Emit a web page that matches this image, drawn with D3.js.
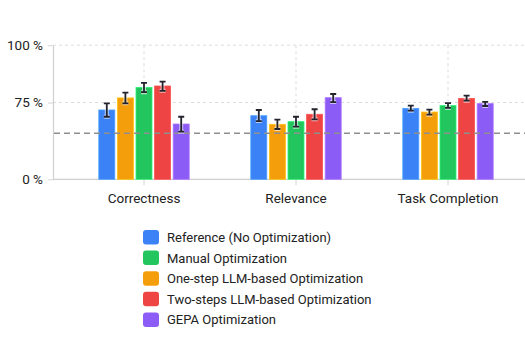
<!DOCTYPE html>
<html>
<head>
<meta charset="utf-8">
<script src="https://cdn.jsdelivr.net/npm/d3@7"></script>
<style>
  html, body { margin: 0; padding: 0; background: #fff; }
  svg { display: block; font-family: Roboto, "Noto Sans", sans-serif; }
</style>
</head>
<body>
<svg id="chart" width="525" height="360"></svg>
<script>
// ---- data ----
const categories = ["Correctness", "Relevance", "Task Completion"];
const barOrder = ["Reference (No Optimization)", "One-step LLM-based Optimization", "Manual Optimization", "Two-steps LLM-based Optimization", "GEPA Optimization"];
const legendOrder = ["Reference (No Optimization)", "Manual Optimization", "One-step LLM-based Optimization", "Two-steps LLM-based Optimization", "GEPA Optimization"];
const seriesColors = ["#3B82F6", "#F59E0B", "#22C55E", "#EF4444", "#8B5CF6"]; // by barOrder

// values per series (barOrder), per category
const refValues      = [67.7, 62.1, 69.3];
const refLow         = [61.1, 56.9, 67.0];
const refHigh        = [74.1, 67.7, 72.0];
const oneStepValues  = [77.0, 53.7, 65.7];
const oneStepLow     = [74.2, 49.1, 63.1];
const oneStepHigh    = [79.3, 58.2, 68.0];
const manualValues   = [81.6, 56.3, 72.0];
const manualLow      = [79.5, 51.4, 69.7];
const manualHigh     = [83.6, 61.1, 74.3];
const twoStepValues  = [82.2, 63.5, 76.8];
const twoStepLow     = [80.1, 58.6, 75.8];
const twoStepHigh    = [84.1, 68.4, 78.0];
const gepaValues     = [54.0, 77.1, 73.9];
const gepaLow        = [46.5, 75.2, 71.6];
const gepaHigh       = [61.1, 78.7, 75.3];

const yTicks = [0, 75, 100];
const yTickLabels = ["0 %", "75 %", "100 %"];
const referenceLine = 45;

const seriesValues = [refValues, oneStepValues, manualValues, twoStepValues, gepaValues];
const seriesLow = [refLow, oneStepLow, manualLow, twoStepLow, gepaLow];
const seriesHigh = [refHigh, oneStepHigh, manualHigh, twoStepHigh, gepaHigh];

const rows = [];
categories.forEach((c, ci) => {
  barOrder.forEach((s, si) => {
    rows.push({cat: c, series: s, value: seriesValues[si][ci], lo: seriesLow[si][ci], hi: seriesHigh[si][ci]});
  });
});

// ---- layout ----
const svg = d3.select("#chart");
const axisX = 53, plotRight = 525;
const y = d3.scaleLinear().domain([0, 75, 100]).range([179.3, 102.5, 45.2]);
const x0 = d3.scaleBand().domain(categories).range([68, 524]).padding(0);
const x1 = d3.scaleBand().domain(barOrder).range([-45.2, 45.2]).paddingInner(0.14).paddingOuter(0);
const color = d3.scaleOrdinal().domain(barOrder).range(seriesColors);

// gridlines (horizontal, non-zero)
svg.append("g").selectAll("line").data(yTicks.filter(d => d > 0)).join("line")
  .attr("x1", axisX).attr("x2", plotRight)
  .attr("y1", d => y(d)).attr("y2", d => y(d))
  .attr("stroke", "#dcdcdc").attr("stroke-width", 1).attr("stroke-dasharray", "3,3");

// vertical gridlines at category centers
svg.append("g").selectAll("line").data(categories).join("line")
  .attr("x1", d => x0(d) + x0.bandwidth() / 2).attr("x2", d => x0(d) + x0.bandwidth() / 2)
  .attr("y1", y(100)).attr("y2", y(0))
  .attr("stroke", "#dcdcdc").attr("stroke-width", 1).attr("stroke-dasharray", "3,3");

// x axis
const xAxis = svg.append("g").attr("transform", `translate(0,${y(0)})`)
  .call(d3.axisBottom(x0).tickSize(6).tickSizeOuter(0));
xAxis.select(".domain").remove();
xAxis.append("line").attr("x1", axisX).attr("x2", plotRight).attr("y1", 0).attr("y2", 0)
  .attr("stroke", "#d0d0d0").attr("stroke-width", 1.2);
xAxis.selectAll(".tick line").attr("stroke", "#d6d6d6");
xAxis.selectAll(".tick text").attr("fill", "#222").attr("font-size", 13.5)
  .attr("font-family", "Roboto, sans-serif").attr("dy", "1.1em").attr("y", 9);

// y axis
const yAxis = svg.append("g").attr("transform", `translate(${axisX},0)`)
  .call(d3.axisLeft(y).tickValues(yTicks).tickFormat((d, i) => yTickLabels[i]).tickSize(5).tickSizeOuter(0).tickPadding(5));
yAxis.select(".domain").attr("stroke", "#d0d0d0").attr("stroke-width", 1.2);
yAxis.selectAll(".tick line").attr("stroke", "#d6d6d6");
yAxis.selectAll(".tick text").attr("fill", "#222").attr("font-size", 13.5).attr("font-family", "Roboto, sans-serif");

// bars
const barG = svg.append("g");
barG.selectAll("rect").data(rows).join("rect")
  .attr("x", d => x0(d.cat) + x0.bandwidth() / 2 + x1(d.series))
  .attr("y", d => y(d.value))
  .attr("width", x1.bandwidth())
  .attr("height", d => y(0) - y(d.value))
  .attr("fill", d => color(d.series))
  .attr("stroke", d => d3.color(color(d.series)).brighter(0.6))
  .attr("stroke-width", 0.8);

// reference dashed line
svg.append("line")
  .attr("x1", axisX + 1).attr("x2", plotRight)
  .attr("y1", y(referenceLine)).attr("y2", y(referenceLine))
  .attr("stroke", "#8f8f8f").attr("stroke-width", 1.5).attr("stroke-dasharray", "6,4");

// error bars
const cx = d => x0(d.cat) + x0.bandwidth() / 2 + x1(d.series) + x1.bandwidth() / 2;
const errPath = d => {
  const c = cx(d), t = y(d.hi), b = y(d.lo), w = 3;
  return `M${c - w},${t}H${c + w}M${c},${t}V${b}M${c - w},${b}H${c + w}`;
};
const errG = svg.append("g");
errG.selectAll("path.halo").data(rows).join("path").attr("class", "halo")
  .attr("d", errPath).attr("fill", "none").attr("stroke", "#fff").attr("stroke-opacity", 0.6).attr("stroke-width", 4);
errG.selectAll("path.err").data(rows).join("path").attr("class", "err")
  .attr("d", errPath).attr("fill", "none").attr("stroke", "#23232e").attr("stroke-width", 1.8);

// legend
const legend = svg.append("g").attr("transform", "translate(143,230)");
const li = legend.selectAll("g").data(legendOrder).join("g")
  .attr("transform", (d, i) => `translate(0,${i * 20.6})`);
li.append("rect").attr("width", 16).attr("height", 14.5).attr("rx", 3)
  .attr("fill", d => color(d));
li.append("text").attr("x", 24).attr("y", 7.5).attr("dy", "0.35em")
  .attr("fill", "#222").attr("font-size", 13).attr("font-family", "Roboto, sans-serif")
  .text(d => d);
</script>
</body>
</html>
